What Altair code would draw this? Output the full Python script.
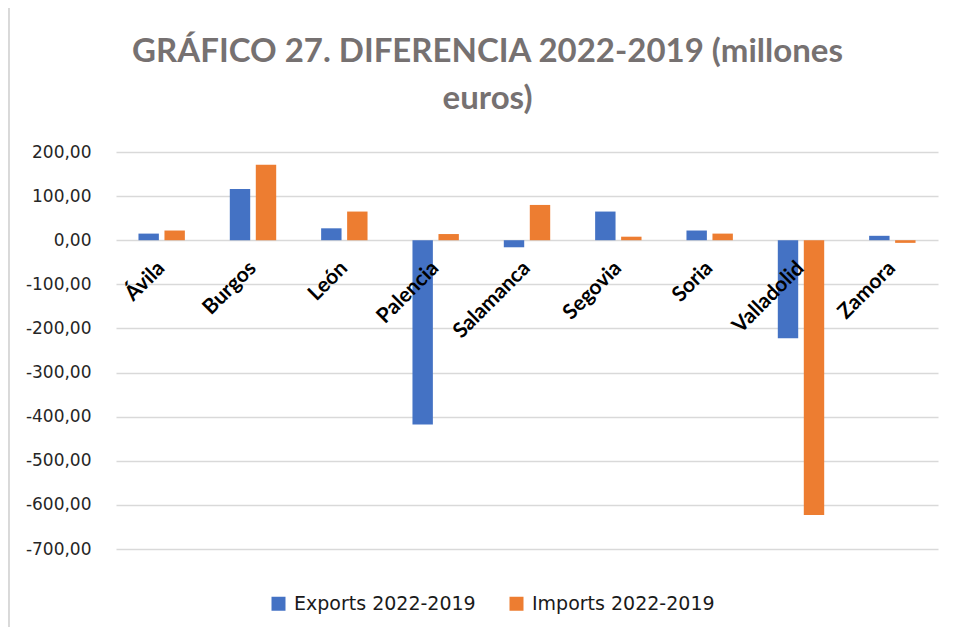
import altair as alt
import pandas as pd

provinces = ["Ávila", "Burgos", "León", "Palencia", "Salamanca", "Segovia", "Soria", "Valladolid", "Zamora"]
exports = [15, 116, 27, -418, -16, 65, 22, -222, 10]
imports = [22, 171, 65, 14, 80, 8, 15, -623, -6]
series = ["Exports 2022-2019", "Imports 2022-2019"]
colors = ["#4472C4", "#ED7D31"]
y_ticks = [200, 100, 0, -100, -200, -300, -400, -500, -600, -700]
title_lines = ["GRÁFICO 27. DIFERENCIA 2022-2019 (millones", "euros)"]

rows = []
for p, e, i in zip(provinces, exports, imports):
    rows.append({"prov": p, "serie": series[0], "valor": e})
    rows.append({"prov": p, "serie": series[1], "valor": i})
df = pd.DataFrame(rows)
labels_df = pd.DataFrame({"prov": provinces, "zero": [0] * len(provinces)})
title_df = pd.DataFrame({"t": title_lines})

x_scale = alt.Scale(paddingInner=0.492, paddingOuter=0.246)
y_scale = alt.Scale(domain=[-700, 200], nice=False)

bars = alt.Chart(df).mark_bar().encode(
    x=alt.X("prov:N", sort=provinces, scale=x_scale, axis=None),
    xOffset=alt.XOffset("serie:N", sort=series, scale=alt.Scale(paddingInner=0.215)),
    y=alt.Y(
        "valor:Q",
        stack=None,
        scale=y_scale,
        axis=alt.Axis(
            values=y_ticks,
            title=None,
            grid=True,
            domain=False,
            ticks=False,
            labelPadding=25,
            labelFontSize=17,
            labelFont="DejaVu Sans",
            labelColor="#262626",
            gridColor="#d9d9d9",
            gridWidth=1.5,
            labelExpr="(datum.value < 0 ? '-' : '') + replace(format(abs(datum.value), '.2f'), '.', ',')",
        ),
    ),
    color=alt.Color(
        "serie:N",
        sort=series,
        scale=alt.Scale(domain=series, range=colors),
        legend=alt.Legend(
            title=None,
            orient="none",
            direction="horizontal",
            legendX=153,
            legendY=442,
            symbolType="square",
            symbolSize=196,
            symbolStrokeWidth=0,
            symbolOpacity=1,
            labelFontSize=19,
            labelFont="DejaVu Sans",
            labelColor="#1a1a1a",
            labelLimit=400,
            columnPadding=31,
            labelOffset=6,
        ),
    ),
)

cat_labels = alt.Chart(labels_df).mark_text(
    angle=315,
    align="right",
    baseline="middle",
    fontWeight="bold",
    fontSize=21,
    font="Lato",
    color="#000000",
    yOffset=25,
).encode(
    x=alt.X("prov:N", sort=provinces, scale=x_scale, axis=None),
    y=alt.Y("zero:Q", scale=y_scale),
    text="prov:N",
)

title1 = alt.Chart(title_df.iloc[[0]]).mark_text(
    fontSize=33, font="Lato", fontWeight="bold", color="#767171",
    align="center", baseline="alphabetic",
).encode(x=alt.value(371.5), y=alt.value(-90.3), text="t:N")

title2 = alt.Chart(title_df.iloc[[1]]).mark_text(
    fontSize=33, font="Lato", fontWeight="bold", color="#767171",
    align="center", baseline="alphabetic",
).encode(x=alt.value(371.5), y=alt.value(-42.7), text="t:N")

border = alt.Chart(labels_df).mark_rule(color="#d9d9d9", strokeWidth=2).encode(
    x=alt.value(-107.5), y=alt.value(-144), y2=alt.value(475)
)

chart = (
    alt.layer(bars, cat_labels, title1, title2, border)
    .properties(
        width=822,
        height=397,
        autosize=alt.AutoSizeParams(type="none"),
        padding={"left": 108, "top": 144, "right": 9, "bottom": 78},
    )
    .configure_view(stroke=None)
)

chart.save("out.html", embed_options={"renderer": "svg", "actions": False})
